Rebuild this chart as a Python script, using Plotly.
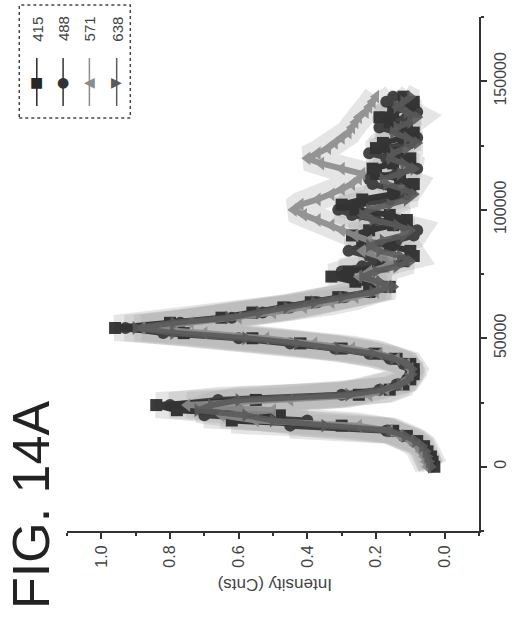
import plotly.graph_objects as go

# Shared x-variable (vertical axis in the rotated figure)
time_vals = [0, 2000, 4000, 6000, 8000, 10000, 12000, 14000, 16000, 18000,
             20000, 22000, 24000, 26000, 28000, 30000, 32000, 34000, 36000, 38000,
             40000, 42000, 44000, 46000, 48000, 50000, 52000, 54000, 56000, 58000,
             60000, 62000, 64000, 66000, 68000, 70000, 72000, 74000, 76000, 78000,
             80000, 82000, 84000, 86000, 88000, 90000, 92000, 94000, 96000, 98000,
             100000, 102000, 104000, 106000, 108000, 110000, 112000, 114000, 116000, 118000,
             120000, 122000, 124000, 126000, 128000, 130000, 132000, 134000, 136000, 138000,
             140000, 142000, 144000]

series_names = ["415", "488", "571", "638"]

intensity_415 = [0.03, 0.035, 0.04, 0.05, 0.06, 0.08, 0.11, 0.15,
                 0.30, 0.62, 0.48, 0.78, 0.84, 0.55, 0.25,
                 0.16, 0.12, 0.10, 0.09, 0.09, 0.10,
                 0.14, 0.20, 0.30, 0.42, 0.56, 0.76, 0.96,
                 0.80, 0.65, 0.56, 0.47, 0.39, 0.31, 0.22,
                 0.16, 0.26, 0.33, 0.28, 0.18, 0.12, 0.09, 0.10, 0.16, 0.24,
                 0.27, 0.22, 0.15, 0.11, 0.16, 0.26, 0.30, 0.24, 0.15, 0.10,
                 0.09, 0.13, 0.20, 0.21, 0.15, 0.10, 0.14, 0.20, 0.18, 0.12,
                 0.09, 0.11, 0.16, 0.19, 0.15, 0.10, 0.09, 0.12]

intensity_488 = [0.04, 0.045, 0.05, 0.06, 0.07, 0.09, 0.12, 0.17,
                 0.45, 0.40, 0.70, 0.60, 0.80, 0.66, 0.30,
                 0.19, 0.14, 0.11, 0.10, 0.10, 0.12,
                 0.16, 0.22, 0.32, 0.45, 0.60, 0.82, 0.93,
                 0.77, 0.62, 0.53, 0.45, 0.37, 0.29, 0.21,
                 0.18, 0.22, 0.28, 0.30, 0.24, 0.18, 0.22, 0.28, 0.24, 0.14,
                 0.09, 0.08, 0.12, 0.20, 0.27, 0.31, 0.25, 0.16, 0.11, 0.15,
                 0.21, 0.22, 0.14, 0.08, 0.10, 0.17, 0.22, 0.17, 0.10, 0.08,
                 0.13, 0.19, 0.17, 0.11, 0.08, 0.12, 0.17, 0.15]

intensity_571 = [0.05, 0.055, 0.06, 0.07, 0.08, 0.10, 0.13, 0.16,
                 0.25, 0.55, 0.65, 0.50, 0.75, 0.45, 0.22,
                 0.17, 0.13, 0.11, 0.10, 0.10, 0.11,
                 0.14, 0.19, 0.27, 0.38, 0.52, 0.70, 0.88,
                 0.74, 0.60, 0.50, 0.41, 0.33, 0.26, 0.20,
                 0.17, 0.20, 0.25, 0.22, 0.17, 0.15, 0.19, 0.24, 0.21, 0.22,
                 0.26, 0.30, 0.33, 0.37, 0.41, 0.44, 0.42, 0.37, 0.33, 0.30,
                 0.27, 0.25, 0.24, 0.30, 0.36, 0.40, 0.37, 0.34, 0.32, 0.30,
                 0.28, 0.27, 0.26, 0.25, 0.23, 0.22, 0.21, 0.20]

intensity_638 = [0.04, 0.045, 0.05, 0.055, 0.065, 0.085, 0.115, 0.16,
                 0.35, 0.50, 0.58, 0.72, 0.68, 0.60, 0.28,
                 0.18, 0.13, 0.105, 0.095, 0.095, 0.11,
                 0.15, 0.21, 0.31, 0.43, 0.58, 0.79, 0.90,
                 0.79, 0.63, 0.54, 0.46, 0.38, 0.30, 0.21,
                 0.15, 0.19, 0.24, 0.20, 0.14, 0.10, 0.13, 0.19, 0.22, 0.18,
                 0.12, 0.10, 0.14, 0.21, 0.24, 0.22, 0.16, 0.11, 0.09, 0.12,
                 0.17, 0.18, 0.13, 0.09, 0.12, 0.16, 0.15, 0.11, 0.08, 0.11,
                 0.15, 0.14, 0.10, 0.08, 0.11, 0.14, 0.12, 0.10]

intensity_ticks = [0.0, 0.2, 0.4, 0.6, 0.8, 1.0]
time_ticks = [0, 50000, 100000, 150000]
time_tick_labels = ["0", "50000", "100000", "150000"]

all_series = [intensity_415, intensity_488, intensity_571, intensity_638]
colors = ["#262626", "#333333", "#8c8c8c", "#5a5a5a"]
symbols = ["square", "circle", "triangle-left", "triangle-right"]
legend_glyphs = ["\u25A0", "\u25CF", "\u25C0", "\u25B6"]

W, H = 521, 619
ML, MR, MT, MB = 67, 31, 17, 88
PW, PH = W - ML - MR, H - MT - MB


def px(x):
    return (x - ML) / PW


def py(y):
    return (H - MB - y) / PH


fig = go.Figure()

# soft halftone-like halo behind the bands
for vals in all_series:
    fig.add_trace(go.Scatter(x=vals, y=time_vals, mode="lines",
                             line=dict(color="rgba(170,170,170,0.30)", width=26),
                             hoverinfo="skip", showlegend=False))

for name, vals, col, sym in zip(series_names, all_series, colors, symbols):
    fig.add_trace(go.Scatter(x=vals, y=time_vals, mode="lines+markers", name=name,
                             line=dict(color=col, width=6),
                             marker=dict(symbol=sym, size=12, color=col),
                             opacity=0.9, showlegend=False))

font_family = "Liberation Sans, Arial, sans-serif"

fig.update_layout(
    width=W, height=H,
    margin=dict(l=ML, r=MR, t=MT, b=MB, pad=0),
    paper_bgcolor="white", plot_bgcolor="white",
    font=dict(family=font_family, color="#333333", size=16),
    xaxis=dict(range=[1.1, -0.1], tickvals=intensity_ticks,
               ticktext=["%.1f" % v for v in intensity_ticks],
               tickangle=-90, ticks="outside", ticklen=6, tickwidth=1.5,
               tickcolor="#333", showline=True, linecolor="#333", linewidth=2,
               showgrid=False, zeroline=False, mirror=False,
               minor=dict(dtick=0.1, tick0=0, ticks="outside", ticklen=3,
                          tickcolor="#333", showgrid=False),
               tickfont=dict(size=16, color="#444")),
    yaxis=dict(range=[-25000, 175000], side="right", tickvals=time_ticks,
               ticktext=time_tick_labels, tickangle=-90, ticks="outside",
               ticklen=6, tickwidth=1.5, tickcolor="#333", showline=True,
               linecolor="#333", linewidth=2, showgrid=False, zeroline=False,
               minor=dict(dtick=25000, tick0=0, ticks="outside", ticklen=3,
                          tickcolor="#333", showgrid=False),
               tickfont=dict(size=16, color="#444")),
)

annotations = [
    dict(text="FIG. 14A", x=px(30), y=py(505), xref="paper", yref="paper",
         xanchor="center", yanchor="middle",
         showarrow=False, textangle=-90,
         font=dict(size=52, family=font_family, color="#222")),
    dict(text="Intensity (Cnts)", x=px(280), y=py(585), xref="paper", yref="paper",
         xanchor="center", yanchor="middle",
         showarrow=False, textangle=180,
         font=dict(size=17, family=font_family, color="#444")),
]

shapes = [dict(type="rect", xref="paper", yref="paper",
               x0=px(18), x1=px(132), y0=py(118), y1=py(5),
               line=dict(color="#444", width=1.5, dash="dot"))]

legend_x = [36, 63, 90, 118]
for name, col, glyph, lx in zip(series_names, colors, legend_glyphs, legend_x):
    annotations.append(dict(text=name, x=px(lx), y=py(29), xref="paper", yref="paper",
                            xanchor="center", yanchor="middle",
                            showarrow=False, textangle=-90,
                            font=dict(size=15, family=font_family, color="#444")))
    shapes.append(dict(type="line", xref="paper", yref="paper",
                       x0=px(lx), x1=px(lx), y0=py(58), y1=py(106),
                       line=dict(color=col, width=1.5)))
    annotations.append(dict(text=glyph, x=px(lx), y=py(82), xref="paper", yref="paper",
                            xanchor="center", yanchor="middle",
                            showarrow=False,
                            font=dict(size=14, family="DejaVu Sans", color=col)))

fig.update_layout(annotations=annotations, shapes=shapes)

fig.write_html("out.html")
